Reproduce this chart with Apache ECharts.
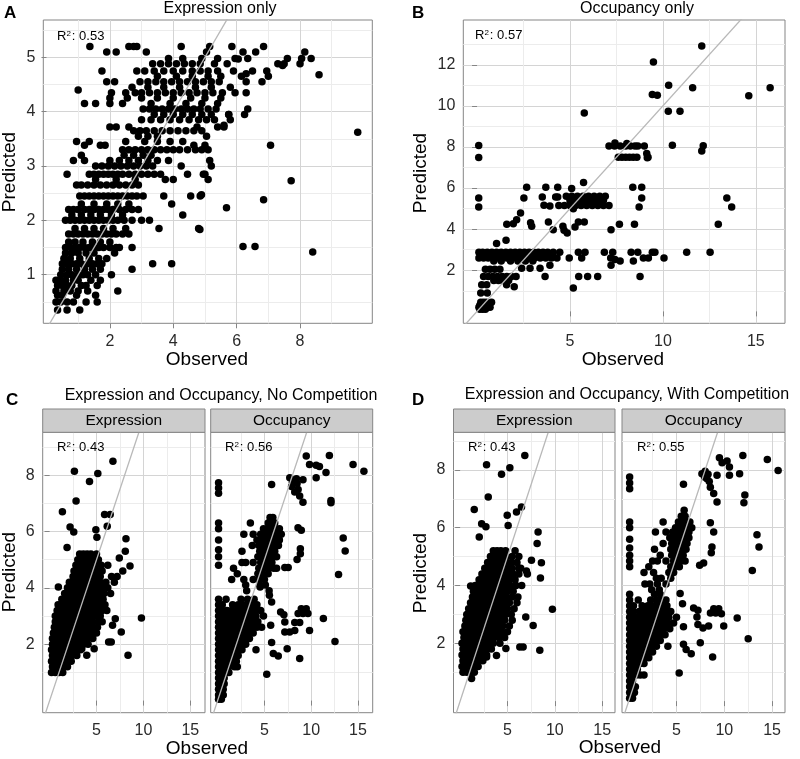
<!DOCTYPE html>
<html><head><meta charset="utf-8">
<script src="https://cdn.jsdelivr.net/npm/echarts@6/dist/echarts.min.js"></script>
<style>html,body{margin:0;padding:0;background:#fff}#c{width:800px;height:759px}</style>
</head><body><div id="c"></div>
<script>
// ---------- DATA ----------
// Panel A: Expression only  (rows: [predicted, [observed...]])
const aRows = [
[0.35,[0.35,0.65,1.05]],
[0.5,[0.3,0.45,0.65,0.85,1.25,1.6]],
[0.62,[0.35,0.5,0.95,1.55]],
[0.7,[0.3,0.55,0.75,1.0,1.3,2.25]],
[0.8,[0.35,0.5,0.65,0.8,1.1,1.25,1.6]],
[0.9,[0.3,0.45,0.6,0.85,1.0,1.4,1.7]],
[1.0,[0.45,0.65,0.8,1.0,1.15,1.3,1.55,2.05]],
[1.1,[0.5,0.7,0.95,1.2,1.45,1.7,2.7]],
[1.2,[0.5,0.65,0.8,0.95,1.1,1.3,1.45,1.6,1.75,3.35,3.95]],
[1.3,[0.55,0.75,1.05,1.35,1.65,1.9]],
[1.4,[0.6,0.8,1.0,1.25,1.5,2.15]],
[1.5,[0.6,0.75,0.9,1.05,1.2,1.35,1.5,1.65,1.8,2.0,2.2,2.3,2.7]],
[1.6,[0.7,0.9,1.15,1.45,1.7,2.0]],
[1.75,[0.7,0.85,1.0,1.15,1.3,1.45,1.6,1.75,1.9,2.05,2.2,2.4,2.6]],
[1.85,[0.9,1.2,1.5,1.8,2.1,2.5,3.55,4.8]],
[2.0,[0.6,0.75,0.9,1.05,1.2,1.35,1.5,1.65,1.8,1.95,2.1,2.25,2.45,2.7,3.0,3.25]],
[2.1,[0.8,1.1,1.4,1.7,2.05,2.4,4.3]],
[2.2,[0.7,0.85,1.0,1.2,1.35,1.5,1.65,1.8,1.95,2.1,2.3,2.5,2.7,2.9]],
[2.3,[1.1,1.5,1.9,2.25,2.6,3.95]],
[2.45,[1.05,1.2,1.35,1.5,1.65,1.8,1.95,2.1,2.25,2.4,2.55,2.7,2.85,3.05,3.7,4.55,4.85]],
[2.65,[0.95,1.1,1.3,1.5,1.7,1.9,2.1,2.3,2.5,2.7,2.9]],
[2.75,[1.55,2.2,2.8,3.75,4.0,5.1]],
[2.85,[0.65,1.35,1.5,1.65,1.8,1.95,2.1,2.25,2.4,2.6,2.8,3.0,3.2,3.4,3.6,4.45,4.95,5.0]],
[3.0,[1.55,1.75,1.95,2.15,2.35,2.55,2.75,2.95,3.15,3.35,4.25,5.2]],
[3.1,[0.85,1.2,2.0,2.3,2.6,2.9,3.2,3.5,3.85,5.15]],
[3.2,[1.1,2.45,2.75,3.05,3.3]],
[3.3,[2.4,2.6,2.8,3.0,3.2,3.4,3.6,3.8,4.0,4.2,4.45,4.7,4.9,5.1]],
[3.38,[1.2,1.7,1.85,4.65,5.0]],
[3.45,[0.95,1.35,2.5,3.1,3.5,3.9,4.3]],
[3.55,[2.9,3.2,3.5,5.05]],
[3.65,[2.75,2.95,3.15,3.4,3.65,3.9,4.15,4.4,4.65,4.9]],
[3.72,[2.0,2.2,2.6,4.75,5.4,5.6]],
[3.85,[3.0,3.3,3.6,3.9,4.2,4.5,4.8,5.05,5.3,5.8]],
[3.95,[3.4,3.7,4.0,4.3,4.6,4.9,5.2,5.75,6.25]],
[4.05,[3.05,3.25,3.45,3.65,3.85,4.05,4.25,4.45,4.65,4.85,5.1,5.35,6.35]],
[4.15,[1.2,1.55,2.0,2.4,3.3,3.9,4.4,4.9,5.4]],
[4.25,[2.0,2.55,3.0,3.5,4.0,4.55,5.0,5.5]],
[4.35,[2.05,2.5,2.8,3.0,3.25,3.5,3.75,4.0,4.25,4.5,4.75,5.0,5.25,5.55,5.95,6.3]],
[4.45,[2.7,3.2,3.7,4.2,4.7,5.2,5.8]],
[4.55,[1.9,2.15,2.95,3.2,3.45,3.7,3.95,4.2,4.45,4.7,4.95,5.2,5.45,6.3,6.8]],
[4.65,[3.5,4.1,4.6,5.1,5.5,6.15,7.0]],
[4.75,[1.75,2.85,3.1,3.4,3.7,4.0,4.3,4.6,4.85,5.1,5.4,5.9,6.5,6.95]],
[4.88,[3.35,3.6,3.85,4.1,4.35,4.6,4.85,5.3,5.7,7.3,7.5,8.0]],
[4.98,[3.85,4.3,4.9,5.4,5.95,6.35,7.6,8.05,8.35]],
[5.1,[1.9,2.2,3.15,5.05,6.2,6.6,8.15]],
[5.2,[1.37,2.6,2.75,2.85,4.25,5.15,5.85,6.85]]
];
const aExtra = [[9.82,3.62],[7.07,3.38],[7.72,2.73],[6.85,2.38],[5.68,2.23],[6.2,1.52],[6.58,1.52],[8.4,1.42],[8.6,4.68],[6.3,4.7],[7.45,4.85],[1.0,4.4],[6.05,4.97],[5.6,3.75],[5.75,3.95],[4.89,2.47],[4.84,1.83]];

// Panel B: Occupancy only
const bRows = [
[0.1,[0.15,0.3,0.45]],
[0.2,[0.1,0.25,0.4,0.55,0.7]],
[0.3,[0.15,0.3,0.45,0.6]],
[0.45,[0.2,0.35,0.5,0.78]],
[0.9,[0.2,0.55]],
[1.2,[2.0]],
[1.3,[0.25,0.52,1.59]],
[1.5,[0.9,1.15,1.4,1.7]],
[1.7,[0.35,0.6,0.85,1.1,1.35,1.6,1.85,2.1,3.66,5.47,5.95,6.49,8.77]],
[2.05,[0.45,0.7,0.95,1.23]],
[2.1,[2.4,2.85,3.39]],
[2.25,[3.92,7.21]],
[2.45,[0.9,1.3,1.8,2.2,2.6,3.0,7.7,8.41]],
[2.6,[0.1,0.35,0.6,0.85,1.1,1.35,1.6,1.85,2.1,2.35,2.6,2.85,3.1,3.4,3.7,4.0,4.3,4.96,5.63,7.19,8.95,9.22,10.06]],
[2.75,[0.2,0.45,0.7,0.95,1.2,1.45,1.7,1.95,2.2,2.45,2.7,2.95,3.2,3.45,3.7,4.0]],
[2.88,[0.1,0.3,0.55,0.8,1.05,1.3,1.55,1.8,2.05,2.3,2.55,2.8,3.05,3.3,3.55,3.8,4.1,4.45,5.45,5.81,6.85,7.3,8.29,8.65,9.43,9.57,11.28,12.54]],
[5.15,[4.4,4.7,5.0,5.3,5.6,5.9,6.2,6.5,6.8,7.1]],
[5.4,[5.0,5.3,5.6,5.9,6.2,6.5,6.8]],
[5.6,[4.8,5.1,5.4,5.7,6.0,6.3,6.6,6.9]],
[7.5,[7.6,7.8,8.0,8.2,8.4,8.6,9.2]],
[8.05,[7.1,7.4,7.7,8.0,8.25,8.5,8.65,9.0]]
];
const bExtra = [[12.09,12.92],[9.49,12.14],[9.43,10.55],[9.7,10.52],[10.31,11.0],[11.6,10.88],[15.77,10.88],[14.62,10.49],[10.29,9.74],[10.92,9.74],[5.77,9.66],[10.51,8.09],[12.17,8.06],[12.09,7.8],[0.09,8.07],[0.09,7.49],[0.09,5.52],[0.09,5.08],[9.13,7.68],[9.16,7.48],[7.42,8.2],[8.06,8.17],[2.67,6.04],[3.7,6.04],[4.34,6.04],[5.09,5.98],[5.73,6.27],[8.38,6.04],[8.86,6.04],[8.86,5.52],[8.72,5.08],[13.44,5.52],[13.7,5.08],[12.98,4.24],[2.52,5.52],[2.34,4.79],[2.13,4.46],[3.51,5.57],[3.6,5.17],[3.92,5.13],[4.34,5.57],[4.23,5.57],[3.84,4.35],[4.1,3.97],[4.62,4.14],[4.68,3.95],[4.85,3.82],[5.27,4.11],[5.45,4.35],[5.77,4.35],[2.88,4.31],[2.94,4.14],[1.95,4.27],[1.6,4.24],[1.56,3.46],[1.05,3.3],[7.66,4.24],[7.21,3.97],[8.47,4.24],[5.18,5.0],[7.42,2.52],[5.18,1.14]];

// Panel C: Expression and Occupancy, No Competition
const cExprRows = [
[1.0,[0.2,0.6,1.0,1.4]],
[1.2,[0.3,0.7,1.1,1.5,1.9]],
[1.4,[0.2,0.6,1.0,1.4,1.8,2.3]],
[1.6,[0.3,0.7,1.1,1.5,1.9,2.4,2.9]],
[1.8,[0.2,0.6,1.0,1.4,1.8,2.2,2.7,3.3]],
[2.0,[0.3,0.7,1.1,1.5,1.9,2.3,2.7,3.1,3.6,4.1]],
[2.2,[0.3,0.7,1.1,1.5,1.9,2.3,2.7,3.1,3.5,4.0,4.6]],
[2.4,[0.4,0.8,1.2,1.6,2.0,2.4,2.8,3.2,3.6,4.0,4.5,5.0]],
[2.6,[0.5,0.9,1.3,1.7,2.1,2.5,2.9,3.3,3.7,4.1,4.6,5.1]],
[2.8,[0.6,1.0,1.4,1.8,2.2,2.6,3.0,3.4,3.8,4.2,4.6,5.2,5.6]],
[3.0,[0.6,1.0,1.4,1.8,2.2,2.6,3.0,3.4,3.8,4.2,4.6,5.0,5.4]],
[3.2,[0.8,1.2,1.6,2.0,2.4,2.8,3.2,3.6,4.0,4.4,4.8,5.2,5.6,6.1]],
[3.4,[0.9,1.3,1.7,2.1,2.5,2.9,3.3,3.7,4.1,4.5,4.9,5.3,5.9]],
[3.6,[1.3,1.7,2.1,2.5,2.9,3.3,3.7,4.1,4.5,4.9,5.3,5.7]],
[3.8,[1.6,2.0,2.4,2.8,3.2,3.6,4.0,4.4,4.8,5.2,5.8,6.5]],
[4.0,[1.9,2.3,2.7,3.1,3.5,3.9,4.3,4.7,5.1,5.6,6.2]],
[4.2,[2.1,2.5,2.9,3.3,3.7,4.1,4.5,4.9,5.4,6.0,6.9]],
[4.4,[2.5,2.9,3.3,3.7,4.1,4.5,4.9,5.4,6.6,7.2]],
[4.6,[2.6,3.0,3.4,3.8,4.2,4.6,5.1,5.6,7.8]],
[4.8,[2.8,3.2,3.6,4.0,4.4,4.9,5.5,6.2]],
[5.0,[3.0,3.4,3.8,4.2,4.6,5.2]],
[5.2,[3.2,3.6,4.0,4.4,5.0]]
];
const cExprExtra = [[6.75,8.49],[2.64,8.14],[5.14,8.06],[4.25,7.77],[2.82,7.08],[1.36,6.7],[5.86,6.6],[6.46,6.6],[6.14,6.19],[2.18,6.16],[2.57,5.98],[4.93,6.06],[5.04,5.8],[1.86,5.43],[8.14,5.74],[8.07,5.3],[8.57,4.78],[7.43,5.06],[0.93,4.03],[9.79,2.93],[8.36,1.61],[7.0,2.9],[6.71,2.67],[7.64,2.43],[6.29,2.08],[6.57,2.08],[4.75,1.84],[3.96,1.61],[3.43,1.84]];
const cOccRows = [
[0.05,[0.1,0.4]],
[0.2,[0.1,0.35,0.6]],
[0.4,[0.1,0.35,0.6]],
[0.6,[0.1,0.4,0.7]],
[0.8,[0.1,0.4,0.7]],
[1.0,[0.1,0.4,0.8,1.2]],
[1.2,[0.1,0.4,0.8,1.2,1.8,2.1]],
[1.4,[0.1,0.4,0.8,1.2,1.6,2.0]],
[1.6,[0.1,0.5,0.9,1.3,1.7,2.2]],
[1.8,[0.1,0.5,0.9,1.3,1.7,2.1,2.6,4.1]],
[2.0,[0.1,0.5,0.9,1.3,1.7,2.1,2.5,3.0]],
[2.2,[0.1,0.5,0.9,1.3,1.7,2.1,2.5,2.9,3.4]],
[2.4,[0.1,0.5,0.9,1.3,1.7,2.1,2.5,2.9,3.3,3.8]],
[2.6,[0.1,0.5,0.9,1.3,1.7,2.1,2.5,2.9,3.3,3.7,4.2,4.7]],
[2.8,[0.1,0.5,1.0,1.4,1.8,2.2,2.6,3.0,3.4,3.8,4.3]],
[3.0,[0.1,0.5,0.9,1.3,1.7,2.1,2.5,2.9,3.3,3.7,4.1,4.9]],
[3.2,[0.1,0.5,1.0,1.5,2.0,2.4,2.8,3.2,3.6,4.0,4.6]],
[3.4,[0.1,0.5,1.6,2.2,2.6,3.0,3.4,3.8,4.2]],
[3.6,[0.1,0.9,2.5,3.2,3.9]],
[3.9,[3.1,5.5]],
[4.1,[3.0,4.5,5.1]],
[4.3,[1.5,2.8,3.8,4.4,5.0]],
[4.5,[2.1,4.3,4.8,5.4]],
[4.7,[1.7,4.4,4.9,5.5,6.0,6.3]],
[4.9,[2.6,3.0,3.8,4.6,5.0,5.4,5.8]],
[5.1,[4.3,4.7,5.1,5.5,5.9,6.3]],
[5.3,[2.6,4.5,4.9,5.3,5.7,6.1]],
[5.5,[3.7,4.4,4.8,5.2,5.6,6.0,6.5]],
[5.7,[4.2,4.6,5.0,5.4,5.8,6.2,6.6]],
[5.9,[2.8,3.8,4.6,5.0,5.4,5.8,6.3,6.8]],
[6.1,[4.9,5.3,5.7,6.2,6.6]],
[6.3,[3.5,5.4,5.8,6.1]],
[6.5,[5.6,5.9]]
];
const cOccExtra = [[0.1,7.73],[0.1,7.54],[0.1,7.36],[0.1,6.3],[0.1,6.1],[0.1,5.7],[0.1,5.35],[0.1,5.1],[0.1,4.8],[9.47,8.68],[11.94,8.7],[9.82,8.38],[10.53,8.35],[10.88,8.31],[11.58,8.09],[10.53,7.91],[14.47,8.38],[15.63,8.14],[5.77,7.67],[7.71,7.91],[8.06,7.81],[8.42,7.87],[8.49,7.7],[9.12,7.84],[8.24,7.4],[8.77,7.26],[9.12,7.04],[8.6,7.49],[12.11,7.1],[12.11,7.02],[13.42,5.77],[13.63,5.31],[12.92,4.47],[12.54,2.1],[11.3,2.91],[9.47,3.26],[9.65,3.09],[8.94,3.26],[8.6,3.09],[9.12,3.09],[8.24,2.77],[8.77,2.77],[9.82,2.49],[8.24,2.49],[7.7,2.43],[7.18,2.43],[6.73,3.14],[7.08,3.05],[7.18,2.79],[5.67,2.67],[5.77,2.06],[5.95,1.67],[6.48,1.58],[7.43,1.84],[8.77,1.49],[5.25,0.93],[8.59,6.13],[8.94,6.04],[8.84,5.39],[8.84,5.21],[8.49,5.01],[7.54,4.72],[7.18,4.72],[8.0,7.75],[7.9,7.6],[5.53,3.74],[5.77,3.5],[4.54,4.03]];

// Panel D: Expression and Occupancy, With Competition
const dExprRows = [
[1.0,[0.3,0.7,1.1,1.5]],
[1.2,[0.2,0.6,1.0,1.4,1.9]],
[1.4,[0.3,0.7,1.1,1.5,1.9,2.4]],
[1.6,[0.2,0.6,1.0,1.4,1.8,2.3,2.8]],
[1.8,[0.3,0.7,1.1,1.5,1.9,2.3,2.8,3.3]],
[2.0,[0.2,0.6,1.0,1.4,1.8,2.2,2.6,3.0,3.5,4.2]],
[2.2,[0.4,0.8,1.2,1.6,2.0,2.4,2.8,3.2,3.6,4.1,4.7]],
[2.4,[0.3,0.7,1.1,1.5,1.9,2.3,2.7,3.1,3.5,3.9,4.4,5.0]],
[2.6,[0.5,0.9,1.3,1.7,2.1,2.5,2.9,3.3,3.7,4.1,4.5,5.2]],
[2.8,[0.6,1.0,1.4,1.8,2.2,2.6,3.0,3.4,3.8,4.2,4.7,5.5]],
[3.0,[0.7,1.1,1.5,1.9,2.3,2.7,3.1,3.5,3.9,4.3,4.8,5.4]],
[3.2,[0.9,1.3,1.7,2.1,2.5,2.9,3.3,3.7,4.1,4.5,5.0,5.7]],
[3.4,[1.1,1.5,1.9,2.3,2.7,3.1,3.5,3.9,4.3,4.7,5.2,6.0]],
[3.6,[1.3,1.7,2.1,2.5,2.9,3.3,3.7,4.1,4.5,4.9,5.5,6.1]],
[3.8,[1.4,1.8,2.2,2.6,3.0,3.4,3.8,4.2,4.6,5.0,5.6]],
[4.0,[1.6,2.0,2.4,2.8,3.2,3.6,4.0,4.4,4.8,5.3,5.9,6.5]],
[4.2,[2.0,2.4,2.8,3.2,3.6,4.0,4.4,4.8,5.2,5.8]],
[4.4,[2.3,2.7,3.1,3.5,3.9,4.3,4.7,5.1,5.6,6.2,7.1]],
[4.6,[2.6,3.0,3.4,3.8,4.2,4.6,5.0,5.5,6.4]],
[4.8,[2.9,3.3,3.7,4.1,4.5,4.9,5.4,6.0]],
[5.0,[3.2,3.6,4.0,4.4,4.9,5.5,6.2]],
[5.2,[3.5,3.9,4.3,4.8,5.8]]
];
const dExprExtra = [[6.83,8.5],[2.79,8.18],[5.25,8.07],[4.37,7.85],[2.97,7.06],[1.49,6.63],[5.95,6.54],[6.48,6.72],[4.97,6.43],[5.07,6.08],[2.27,6.14],[2.72,6.03],[2.02,5.68],[8.23,5.85],[8.13,5.45],[8.58,4.79],[7.53,4.87],[8.48,4.26],[1.11,3.98],[9.74,3.18],[6.93,2.91],[7.71,2.62],[6.3,1.87],[6.65,1.87],[8.41,1.76],[4.83,1.82],[3.84,1.58],[2.79,1.53],[1.21,0.78],[6.2,4.6],[7.0,4.5]];
const dOccRows = [
[0.1,[0.1,0.4]],
[0.3,[0.1,0.35,0.6]],
[0.5,[0.1,0.4,0.7]],
[0.7,[0.1,0.4]],
[0.9,[0.1,0.45,0.8,1.2,1.6]],
[1.1,[0.1,0.5,0.9]],
[1.3,[0.1,0.4,0.8,1.2,1.6]],
[1.5,[0.1,0.5,0.9,1.3,1.7,2.1]],
[1.7,[0.1,0.5,0.9,1.3,1.7,2.1,2.5]],
[1.9,[0.1,0.5,0.9,1.3,1.7,2.1,2.5,2.9,4.1]],
[2.1,[0.1,0.5,0.9,1.3,1.7,2.1,2.5,2.9,3.3]],
[2.3,[0.1,0.5,0.9,1.3,1.7,2.1,2.5,2.9,3.3,3.8]],
[2.5,[0.1,0.5,0.9,1.3,1.7,2.1,2.5,2.9,3.3,3.7,4.3]],
[2.7,[0.1,0.5,0.9,1.3,1.7,2.1,2.5,2.9,3.3,3.7,4.1,4.7]],
[2.9,[0.1,0.6,1.0,1.4,1.8,2.2,2.6,3.0,3.4,3.8,4.2,5.0]],
[3.1,[0.1,0.5,1.1,1.5,1.9,2.3,2.7,3.1,3.5,3.9,4.4]],
[3.3,[0.1,0.5,1.4,2.0,2.4,2.8,3.2,3.6,4.0]],
[3.5,[0.1,1.0,2.3,2.9,3.4,3.9]],
[3.7,[0.1,2.7,3.3]],
[3.85,[2.4,3.2]],
[4.05,[1.7,2.2,3.0,3.9]],
[4.25,[2.9,3.4,4.4]],
[4.45,[1.6,2.6,4.2,4.7]],
[4.65,[2.1,4.4,4.8,5.3]],
[4.85,[2.5,3.0,3.9,4.7,5.1,5.5,5.9]],
[5.05,[3.3,4.5,4.9,5.3,5.7]],
[5.25,[2.7,4.4,4.8,5.2,5.6,6.0]],
[5.45,[3.6,4.5,4.9,5.3,5.7,6.1]],
[5.65,[4.3,4.7,5.1,5.5,5.9,6.3]],
[5.85,[2.8,3.9,4.6,5.0,5.4,5.8,6.3]],
[6.0,[4.9,5.3,5.7,6.1,6.6]],
[6.2,[3.6,5.2,5.6,6.0,6.4]],
[6.4,[5.5,5.9]],
[6.6,[5.8]]
];
const dOccExtra = [[0.1,7.75],[0.1,7.55],[0.1,7.35],[0.1,6.2],[0.1,6.0],[0.1,5.6],[0.1,5.3],[0.1,5.05],[0.1,4.85],[0.1,4.65],[9.49,8.42],[11.94,8.5],[9.77,8.25],[10.29,8.31],[10.54,8.1],[10.54,7.81],[11.6,7.87],[14.5,8.36],[15.63,7.98],[5.73,7.5],[7.66,7.87],[7.94,7.75],[8.19,7.69],[8.43,7.6],[9.24,7.81],[8.54,7.4],[8.89,7.18],[9.24,6.89],[12.15,7.13],[12.05,6.86],[13.42,5.76],[13.63,5.33],[12.93,4.52],[12.5,2.16],[11.35,2.88],[9.42,3.2],[9.7,3.02],[8.9,3.2],[8.55,3.05],[9.1,3.05],[9.94,2.6],[8.36,2.6],[7.77,2.53],[7.24,2.65],[6.79,3.22],[7.24,3.14],[7.14,2.91],[5.73,2.57],[5.73,1.97],[6.01,1.79],[6.54,1.64],[7.49,2.02],[8.78,1.53],[5.28,0.97],[8.54,6.17],[8.89,5.85],[8.71,5.33],[8.64,5.13],[7.84,4.78],[7.42,4.7],[5.38,3.72],[5.63,3.37],[8.0,7.95],[8.3,7.85]];

// tick labels
const ticksAx = [2,4,6,8];
const ticksAy = [1,2,3,4,5];
const ticksBx = [5,10,15];
const ticksBy = [2,4,6,8,10,12];
const ticksCDx = [5,10,15];
const ticksCDy = [2,4,6,8];
// identity line (y = x) ends
const identityEnds = [-2, 20];
const r2 = {A:'0.53', B:'0.57', Cexp:'0.43', Cocc:'0.56', Dexp:'0.43', Docc:'0.55'};

// ---------- BUILD ----------
const rowsToPts = rows => rows.flatMap(r => r[1].map(x => [x, r[0]]));
const FONT = 'Liberation Sans, Arial, Helvetica, sans-serif';

const panels = [
  {grid:{left:43.3, top:20, width:329, height:303.3}, xr:[-0.1,10.28], yr:[0.106,5.687], xs:2, ys:1, xt:ticksAx, yt:ticksAy, yl:true, pts:rowsToPts(aRows).concat(aExtra)},
  {grid:{left:463.3, top:20, width:321.7, height:303.3}, xr:[-0.74,16.57], yr:[-0.58,14.18], xs:5, ys:2, xt:ticksBx, yt:ticksBy, yl:true, pts:rowsToPts(bRows).concat(bExtra)},
  {grid:{left:42.7, top:432.3, width:162.3, height:280.4}, xr:[-0.74,16.57], yr:[-0.43,9.52], xs:5, ys:2, xt:ticksCDx, yt:ticksCDy, yl:true, pts:rowsToPts(cExprRows).concat(cExprExtra)},
  {grid:{left:210.7, top:432.3, width:162, height:280.4}, xr:[-0.74,16.57], yr:[-0.43,9.52], xs:5, ys:2, xt:ticksCDx, yt:ticksCDy, yl:false, pts:rowsToPts(cOccRows).concat(cOccExtra)},
  {grid:{left:453.5, top:432.3, width:161.5, height:280.4}, xr:[-0.7,16.35], yr:[-0.40,9.30], xs:5, ys:2, xt:ticksCDx, yt:ticksCDy, yl:true, pts:rowsToPts(dExprRows).concat(dExprExtra)},
  {grid:{left:622, top:432.3, width:163, height:280.4}, xr:[-0.7,16.35], yr:[-0.40,9.30], xs:5, ys:2, xt:ticksCDx, yt:ticksCDy, yl:false, pts:rowsToPts(dOccRows).concat(dOccExtra)}
];

const MAJOR = '#d4d4d4', MINOR = '#ececec', FRAME = '#858585', TICKC = '#858585', LABC = '#2a2a2a';

const grids = [], xAxes = [], yAxes = [], series = [];
panels.forEach((p, i) => {
  grids.push(Object.assign({show:true, borderColor:FRAME, borderWidth:1, backgroundColor:'#fff', containLabel:false}, p.grid));
  const common = (min, max, step, ticks, showLab, margin) => ({
    type:'value', gridIndex:i, min:min, max:max, minInterval:step, maxInterval:step,
    axisLine:{show:false},
    axisTick:{show:showLab, inside:false, length:5, lineStyle:{color:TICKC, width:1}, customValues:ticks},
    axisLabel:{show:showLab, customValues:ticks, color:LABC, fontSize:16, fontFamily:FONT, margin:margin},
    splitLine:{show:true, lineStyle:{color:MAJOR, width:1}},
    minorTick:{show:false, splitNumber:2},
    minorSplitLine:{show:true, lineStyle:{color:MINOR, width:1}}
  });
  xAxes.push(common(p.xr[0], p.xr[1], p.xs, p.xt, true, 10));
  yAxes.push(common(p.yr[0], p.yr[1], p.ys, p.yt, p.yl, 8));
  series.push({type:'scatter', xAxisIndex:i, yAxisIndex:i, data:p.pts, symbol:'circle', symbolSize:7.5, itemStyle:{color:'#000', opacity:1, borderWidth:0}, silent:true, z:2, animation:false});
  series.push({type:'line', xAxisIndex:i, yAxisIndex:i, data:identityEnds.map(v => [v, v]), showSymbol:false, symbol:'none', clip:true, lineStyle:{color:'#b8b8b8', width:1.3}, silent:true, z:3, animation:false});
});

const txt = (x, y, text, size) => ({type:'text', x:x, y:y, z:10, style:{text:text, fill:'#000', font:size + 'px ' + FONT, textAlign:'center', textVerticalAlign:'middle'}});
const boldTxt = (x, y, t) => ({type:'text', x:x, y:y, z:10, style:{text:t, fill:'#000', font:'bold 17px ' + FONT, textAlign:'left', textVerticalAlign:'middle'}});
const r2Txt = (x, y, v) => ({type:'text', x:x, y:y, z:10, style:{text:'{r|R}{s|2}{r|: ' + v + '}', textAlign:'left', textVerticalAlign:'middle', rich:{r:{fontSize:13, fontFamily:FONT, fill:'#000', color:'#000'}, s:{fontSize:8, fontFamily:FONT, color:'#000', fill:'#000', verticalAlign:'top', padding:[0,1,0,0]}}}});
const strip = (x, y, w, h, t) => [
  {type:'rect', shape:{x:x, y:y, width:w, height:h}, style:{fill:'#cccccc', stroke:FRAME, lineWidth:1}, z:9},
  txt(x + w/2, y + h/2 + 0.5, t, 15.5)
];
const rot = (x, y, t) => ({type:'text', x:x, y:y, rotation:Math.PI/2, z:10, style:{text:t, fill:'#000', font:'19px ' + FONT, textAlign:'center', textVerticalAlign:'middle'}});

const graphic = [
  boldTxt(4, 13, 'A'), boldTxt(412, 13, 'B'), boldTxt(6, 400, 'C'), boldTxt(412, 400, 'D'),
  txt(220, 9, 'Expression only', 16),
  txt(637, 9, 'Occupancy only', 16),
  txt(221, 396, 'Expression and Occupancy, No Competition', 16),
  txt(627, 395, 'Expression and Occupancy, With Competition', 16),
  txt(207, 360, 'Observed', 19), txt(623, 360, 'Observed', 19),
  txt(207, 749, 'Observed', 19), txt(620, 748, 'Observed', 19),
  rot(10, 172, 'Predicted'), rot(421, 173, 'Predicted'), rot(10, 572, 'Predicted'), rot(421, 573, 'Predicted'),
  r2Txt(57, 36, r2.A), r2Txt(475, 35, r2.B),
  r2Txt(57, 447, r2.Cexp), r2Txt(225, 447, r2.Cocc),
  r2Txt(468, 447, r2.Dexp), r2Txt(637, 447, r2.Docc)
].concat(strip(42.7, 409, 162.3, 23.3, 'Expression'), strip(210.7, 409, 162, 23.3, 'Occupancy'),
         strip(453.5, 409, 161.5, 23.3, 'Expression'), strip(622, 409, 163, 23.3, 'Occupancy'));

const chart = echarts.init(document.getElementById('c'), null, {renderer:'canvas'});
chart.setOption({
  animation:false,
  backgroundColor:'#fff',
  textStyle:{fontFamily:FONT},
  grid:grids, xAxis:xAxes, yAxis:yAxes, series:series, graphic:graphic
});
</script></body></html>
